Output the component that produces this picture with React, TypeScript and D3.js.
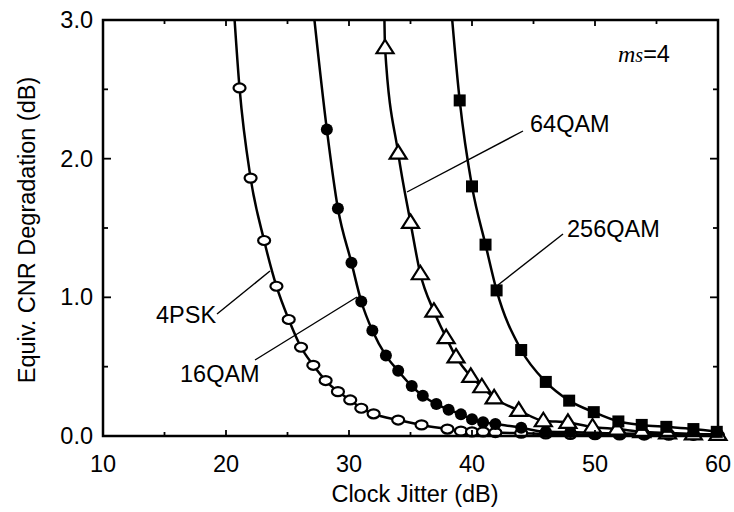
import React, { useEffect, useRef } from 'react'
import * as d3 from 'd3'

// data (x: clock jitter dB, y: CNR degradation dB)
const x4PSK = [20.55, 21.1, 22, 23.1, 24.1, 25.1, 26.1, 27.1, 28.1, 29.1, 30.1, 31, 32, 34, 35.9, 38, 39.1, 40, 40.9, 41.9, 44, 46, 48, 50, 52, 54, 56, 58, 60]
const y4PSK = [3.2, 2.51, 1.86, 1.41, 1.08, 0.84, 0.64, 0.51, 0.40, 0.32, 0.26, 0.20, 0.16, 0.115, 0.08, 0.05, 0.035, 0.03, 0.03, 0.025, 0.02, 0.015, 0.012, 0.01, 0.008, 0.007, 0.006, 0.005, 0.005]

const x16QAM = [26.95, 28.2, 29.1, 30.2, 31, 31.9, 33, 34, 35.1, 36, 37.1, 38.1, 39.1, 40, 40.9, 41.9, 44, 46, 48, 50, 52, 54, 56, 58, 60]
const y16QAM = [3.2, 2.21, 1.64, 1.25, 0.97, 0.76, 0.58, 0.47, 0.36, 0.29, 0.23, 0.19, 0.156, 0.12, 0.10, 0.087, 0.06, 0.03, 0.028, 0.022, 0.018, 0.015, 0.012, 0.01, 0.01]

const x64QAM = [32.85, 32.93, 34, 35, 35.8, 36.9, 37.9, 38.7, 39.9, 40.8, 41.8, 43.8, 45.8, 47.8, 49.8, 51.8, 53.8, 55.9, 58, 60]
const y64QAM = [3.2, 2.80, 2.04, 1.54, 1.17, 0.90, 0.71, 0.57, 0.43, 0.355, 0.275, 0.185, 0.11, 0.098, 0.065, 0.05, 0.031, 0.022, 0.015, 0.012]

const x256QAM = [38.2, 39, 40, 41.1, 42, 44, 46, 47.9, 49.9, 51.9, 53.8, 55.8, 58, 59.9]
const y256QAM = [3.2, 2.42, 1.80, 1.38, 1.05, 0.62, 0.39, 0.255, 0.172, 0.105, 0.08, 0.066, 0.05, 0.03]

const yMajor = [0, 1, 2, 3]
const yMinor = [0.5, 1.5, 2.5]
const xMajor = [10, 20, 30, 40, 50, 60]
const xMinor = [15, 25, 35, 45, 55]

const W = 734, H = 512
const left = 103, right = 718, top = 20, bottom = 436
const font = '"Liberation Sans", Arial, Helvetica, sans-serif'
const fs = 23.5

export default function App () {
  const ref = useRef<SVGSVGElement>(null)

  useEffect(() => {
    const svg = d3.select(ref.current)
    svg.selectAll('*').remove()

    const x = d3.scaleLinear().domain([10, 60]).range([left, right])
    const y = d3.scaleLinear().domain([0, 3]).range([bottom, top])

    svg.append('defs').append('clipPath').attr('id', 'plot')
      .append('rect').attr('x', left).attr('y', top)
      .attr('width', right - left).attr('height', bottom - top)

    const series = [
      { xs: x4PSK, ys: y4PSK, kind: 'ellipse' },
      { xs: x16QAM, ys: y16QAM, kind: 'dot' },
      { xs: x64QAM, ys: y64QAM, kind: 'tri' },
      { xs: x256QAM, ys: y256QAM, kind: 'sq' }
    ]

    const line = d3.line<[number, number]>()
      .x(d => x(d[0]))
      .y(d => y(d[1]))
      .curve(d3.curveMonotoneX)

    // curves
    series.forEach(s => {
      const pts = s.xs.map((v, i) => [v, s.ys[i]] as [number, number])
      svg.append('path')
        .attr('d', line(pts))
        .attr('fill', 'none')
        .attr('stroke', '#000')
        .attr('stroke-width', 2.5)
        .attr('clip-path', 'url(#plot)')
    })

    // markers
    series.forEach(s => {
      const pts = s.xs.map((v, i) => [v, s.ys[i]] as [number, number]).filter(d => d[1] <= 3)
      const g = svg.append('g')
      pts.forEach(d => {
        const cx = x(d[0]), cy = y(d[1])
        if (s.kind === 'ellipse') {
          g.append('ellipse').attr('cx', cx).attr('cy', cy).attr('rx', 6).attr('ry', 4.5)
            .attr('fill', '#fff').attr('stroke', '#000').attr('stroke-width', 2.2)
        } else if (s.kind === 'dot') {
          g.append('circle').attr('cx', cx).attr('cy', cy).attr('r', 6).attr('fill', '#000')
        } else if (s.kind === 'tri') {
          g.append('path')
            .attr('d', `M${cx},${cy - 8}L${cx + 8.5},${cy + 5.5}L${cx - 8.5},${cy + 5.5}Z`)
            .attr('fill', '#fff').attr('stroke', '#000').attr('stroke-width', 2.2)
        } else {
          g.append('rect').attr('x', cx - 6).attr('y', cy - 6).attr('width', 12).attr('height', 12)
            .attr('fill', '#000')
        }
      })
    })

    // frame
    svg.append('rect')
      .attr('x', left).attr('y', top)
      .attr('width', right - left).attr('height', bottom - top)
      .attr('fill', 'none').attr('stroke', '#000').attr('stroke-width', 2.5)

    const ticks = svg.append('g').attr('stroke', '#000').attr('stroke-width', 1.8)
    yMajor.concat(yMinor).forEach(v => {
      const len = yMajor.includes(v) ? 8 : 5
      ticks.append('line').attr('x1', left).attr('x2', left + len).attr('y1', y(v)).attr('y2', y(v))
      ticks.append('line').attr('x1', right).attr('x2', right - len).attr('y1', y(v)).attr('y2', y(v))
    })
    xMajor.concat(xMinor).forEach(v => {
      const len = xMajor.includes(v) ? 6 : 4
      ticks.append('line').attr('x1', x(v)).attr('x2', x(v)).attr('y1', bottom).attr('y2', bottom - len)
      ticks.append('line').attr('x1', x(v)).attr('x2', x(v)).attr('y1', top).attr('y2', top + len)
    })

    // tick labels
    svg.append('g').selectAll('text').data(yMajor).enter()
      .append('text')
      .attr('x', left - 10).attr('y', d => y(d) + 8)
      .attr('text-anchor', 'end')
      .attr('font-family', font).attr('font-size', fs)
      .text(d => d.toFixed(1))

    svg.append('g').selectAll('text').data(xMajor).enter()
      .append('text')
      .attr('x', d => x(d)).attr('y', 472)
      .attr('text-anchor', 'middle')
      .attr('font-family', font).attr('font-size', fs)
      .text(d => d)

    // axis titles
    svg.append('text')
      .attr('x', 415).attr('y', 502)
      .attr('text-anchor', 'middle')
      .attr('font-family', font).attr('font-size', fs)
      .text('Clock Jitter (dB)')

    svg.append('text')
      .attr('transform', `translate(35, ${(top + bottom) / 2 + 2}) rotate(-90)`)
      .attr('text-anchor', 'middle')
      .attr('font-family', font).attr('font-size', fs)
      .text('Equiv. CNR Degradation (dB)')

    // series labels with leader lines
    const labels = [
      { t: '4PSK', tx: 156, ty: 323, x1: 217, y1: 314, x2: 270, y2: 271 },
      { t: '16QAM', tx: 180, ty: 382, x1: 255, y1: 360, x2: 357, y2: 297 },
      { t: '64QAM', tx: 530, ty: 132, x1: 523, y1: 131, x2: 407, y2: 192 },
      { t: '256QAM', tx: 567, ty: 237, x1: 563, y1: 234, x2: 498, y2: 285 }
    ]
    labels.forEach(l => {
      svg.append('text')
        .attr('x', l.tx).attr('y', l.ty)
        .attr('font-family', font).attr('font-size', fs)
        .text(l.t)
      svg.append('line')
        .attr('x1', l.x1).attr('y1', l.y1).attr('x2', l.x2).attr('y2', l.y2)
        .attr('stroke', '#000').attr('stroke-width', 1.4)
    })

    // ms=4
    const ms = svg.append('text').attr('x', 618).attr('y', 62)
    ms.append('tspan').attr('font-family', '"Liberation Serif", "Times New Roman", serif')
      .attr('font-style', 'italic').attr('font-size', 24).text('m')
    ms.append('tspan').attr('font-family', '"Liberation Serif", "Times New Roman", serif')
      .attr('font-style', 'italic').attr('font-size', 20).text('s')
    ms.append('tspan').attr('font-family', font).attr('font-size', fs).text('=4')
  }, [])

  return (
    <svg ref={ref} width={W} height={H}
      style={{ position: 'absolute', left: 0, top: 0, background: '#fff' }} />
  )
}
